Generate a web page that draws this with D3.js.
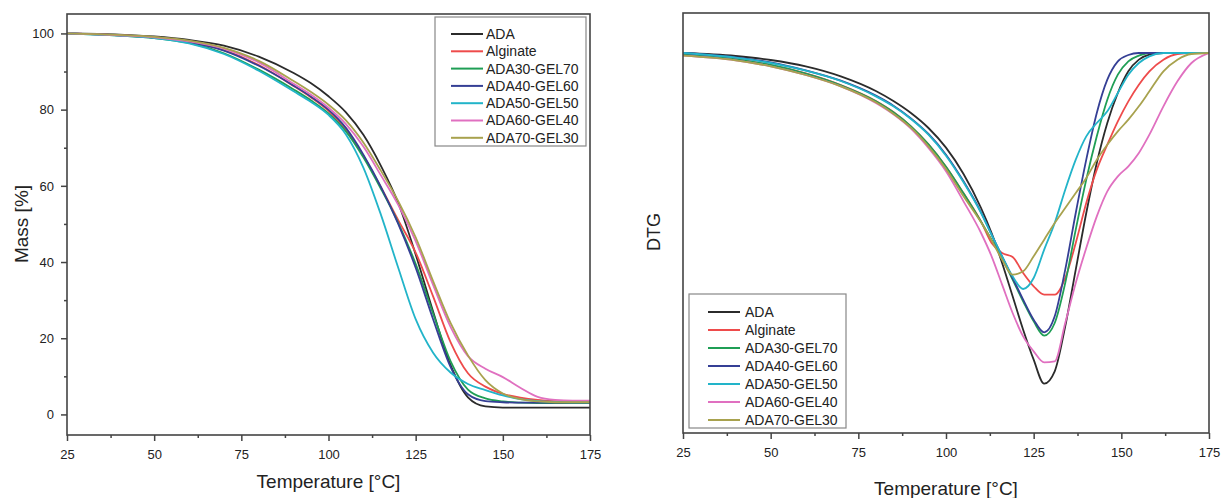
<!DOCTYPE html>
<html>
<head>
<meta charset="utf-8">
<script src="https://cdn.jsdelivr.net/npm/d3@7"></script>
<style>
  body { margin: 0; background: #fff; }
  svg { display: block; font-family: "Liberation Sans", Arial, sans-serif; }
  .tick text { font-size: 13px; fill: #222; }
  .tick line { stroke: #444; stroke-width: 1.5; }
  .axis-label { font-size: 19px; fill: #222; }
  .legend text { font-size: 14px; fill: #222; }
</style>
</head>
<body>
<svg id="chart" width="1223" height="498"></svg>
<script>
const seriesNames = ["ADA", "Alginate", "ADA30-GEL70", "ADA40-GEL60", "ADA50-GEL50", "ADA60-GEL40", "ADA70-GEL30"];
const seriesColors = ["#2b2b2b", "#ee4b4b", "#1f9e55", "#353f95", "#22b4c9", "#e070c0", "#a8a24e"];

const tempTicks = [25, 50, 75, 100, 125, 150, 175];
const tempMinorTicks = [37.5, 62.5, 87.5, 112.5, 137.5, 162.5];
const massTicks = [0, 20, 40, 60, 80, 100];
const massMinorTicks = [10, 30, 50, 70, 90];

// TGA mass loss (%)
const tgaTemp = [25, 40, 50, 60, 70, 80, 90, 95, 100, 105, 110, 115, 120, 125, 130, 135, 140, 145, 150, 155, 160, 165, 170, 175];
const tgaADA      = [100, 99.7, 99.2, 98.3, 96.8, 93.9, 89.6, 86.9, 83.5, 79.3, 73.4, 65.3, 55.5, 42.0, 27.0, 13.0, 4.5, 2.1, 1.8, 1.8, 1.8, 1.8, 1.8, 1.8];
const tgaAlginate = [100, 99.5, 98.9, 97.8, 95.6, 91.7, 86.2, 83.2, 79.7, 74.8, 67.9, 59.7, 51.0, 42.5, 31.0, 19.0, 10.8, 7.3, 5.4, 4.4, 3.8, 3.5, 3.4, 3.4];
const tgaADA30    = [100, 99.4, 98.8, 97.5, 94.8, 90.5, 85.3, 82.4, 79.0, 74.3, 67.5, 59.3, 50.3, 39.5, 26.5, 14.0, 6.5, 4.2, 3.4, 3.1, 3.0, 3.0, 3.0, 3.0];
const tgaADA40    = [100, 99.5, 98.9, 97.7, 95.5, 91.5, 86.3, 83.4, 80.0, 75.2, 68.2, 59.8, 50.0, 38.5, 25.0, 12.5, 5.3, 3.5, 3.2, 3.1, 3.1, 3.1, 3.1, 3.1];
const tgaADA50    = [100, 99.4, 98.8, 97.4, 94.6, 90.2, 84.8, 82.0, 78.6, 73.5, 64.8, 52.5, 38.5, 25.0, 16.2, 11.0, 8.0, 6.4, 5.0, 4.0, 3.5, 3.3, 3.2, 3.2];
const tgaADA60    = [100, 99.5, 99.0, 97.9, 96.0, 92.4, 86.8, 83.9, 80.5, 76.2, 70.3, 62.8, 55.0, 45.5, 34.0, 23.0, 15.3, 12.0, 9.8, 7.0, 4.6, 3.8, 3.6, 3.6];
const tgaADA70    = [100, 99.6, 99.1, 98.1, 96.2, 92.8, 87.5, 84.6, 81.3, 77.2, 71.4, 64.0, 56.0, 46.5, 35.0, 24.0, 15.5, 9.0, 5.5, 4.0, 3.4, 3.2, 3.2, 3.2];

// DTG (arbitrary units)
const dtgTemp = [25, 40, 50, 60, 70, 80, 85, 90, 95, 100, 105, 110, 113, 116, 119, 122, 125, 128, 131, 134, 137, 140, 143, 146, 149, 152, 155, 158, 162, 166, 170, 175];
const dtgADA      = [0, -0.09, -0.21, -0.4, -0.7, -1.14, -1.44, -1.8, -2.25, -2.84, -3.63, -4.65, -5.4, -6.3, -7.3, -8.3, -9.2, -9.92, -9.55, -8.2, -6.5, -4.8, -3.3, -2.1, -1.2, -0.55, -0.2, -0.05, 0, 0, 0, 0];
const dtgAlginate = [-0.05, -0.185, -0.355, -0.61, -0.96, -1.44, -1.77, -2.2, -2.74, -3.41, -4.21, -5.06, -5.7, -6.0, -6.12, -6.6, -7.0, -7.25, -7.25, -6.75, -5.7, -4.5, -3.5, -2.75, -2.05, -1.45, -0.95, -0.55, -0.2, -0.03, 0, 0];
const dtgADA30    = [-0.05, -0.19, -0.36, -0.62, -0.97, -1.45, -1.78, -2.2, -2.74, -3.41, -4.21, -5.06, -5.6, -6.15, -6.8, -7.45, -8.05, -8.48, -8.1, -6.9, -5.3, -3.8, -2.5, -1.4, -0.65, -0.25, -0.08, 0, 0, 0, 0, 0];
const dtgADA40    = [0, -0.13, -0.28, -0.52, -0.83, -1.28, -1.58, -1.96, -2.43, -3.05, -3.85, -4.78, -5.45, -6.1, -6.75, -7.4, -8.0, -8.38, -7.9, -6.5, -4.8, -3.2, -1.8, -0.8, -0.25, -0.06, 0, 0, 0, 0, 0, 0];
const dtgADA50    = [0, -0.14, -0.3, -0.53, -0.84, -1.3, -1.6, -1.98, -2.45, -3.08, -3.88, -4.8, -5.45, -6.1, -6.7, -7.08, -6.75, -5.9, -5.1, -4.1, -3.2, -2.5, -2.1, -1.75, -1.2, -0.65, -0.3, -0.1, 0, 0, 0, 0];
const dtgADA60    = [-0.08, -0.22, -0.4, -0.66, -1.0, -1.5, -1.84, -2.27, -2.85, -3.55, -4.45, -5.4, -6.1, -6.95, -7.8, -8.5, -8.95, -9.28, -9.25, -8.1, -6.9, -5.85, -4.9, -4.15, -3.7, -3.4, -3.0, -2.45, -1.6, -0.85, -0.3, 0];
const dtgADA70    = [-0.08, -0.22, -0.4, -0.66, -1.0, -1.48, -1.82, -2.24, -2.8, -3.48, -4.3, -5.08, -5.62, -6.2, -6.65, -6.55, -6.1, -5.6, -5.1, -4.65, -4.2, -3.75, -3.2, -2.75, -2.35, -2.0, -1.6, -1.15, -0.55, -0.2, -0.03, 0];

const tgaSeries = [tgaADA, tgaAlginate, tgaADA30, tgaADA40, tgaADA50, tgaADA60, tgaADA70];
const dtgSeries = [dtgADA, dtgAlginate, dtgADA30, dtgADA40, dtgADA50, dtgADA60, dtgADA70];

const svg = d3.select("#chart");

function drawPanel(opts) {
  const { left, top, right, bottom } = opts.box;
  const width = right - left;
  const height = bottom - top;

  const x = d3.scaleLinear().domain([25, 175]).range([0, width]);
  const y = d3.scaleLinear().domain(opts.yDomain).range([height, 0]);

  const g = svg.append("g").attr("transform", `translate(${left},${top})`);

  const clipId = "clip-" + opts.id;
  g.append("clipPath").attr("id", clipId)
    .append("rect").attr("width", width).attr("height", height);

  const line = d3.line()
    .x((d, i) => x(opts.temps[i]))
    .y(d => y(d))
    .curve(d3.curveMonotoneX);

  g.append("g").attr("clip-path", `url(#${clipId})`)
    .selectAll("path")
    .data(opts.series)
    .enter()
    .append("path")
    .attr("d", d => line(d))
    .attr("fill", "none")
    .attr("stroke", (d, i) => seriesColors[i])
    .attr("stroke-width", 1.8);

  // x axis, major and minor ticks
  const xAxis = g.append("g")
    .attr("transform", `translate(0,${height})`)
    .call(d3.axisBottom(x).tickValues(tempTicks).tickSize(6).tickSizeOuter(0).tickPadding(9).tickFormat(d3.format("d")));
  xAxis.select(".domain").remove();
  const xMinor = g.append("g")
    .attr("transform", `translate(0,${height})`)
    .call(d3.axisBottom(x).tickValues(tempMinorTicks).tickSize(3).tickSizeOuter(0).tickFormat(""));
  xMinor.select(".domain").remove();

  if (opts.yTicks) {
    const yAxis = g.append("g")
      .call(d3.axisLeft(y).tickValues(opts.yTicks).tickSize(6).tickSizeOuter(0).tickPadding(7));
    yAxis.select(".domain").remove();
    const yMinor = g.append("g")
      .call(d3.axisLeft(y).tickValues(opts.yMinorTicks).tickSize(3).tickSizeOuter(0).tickFormat(""));
    yMinor.select(".domain").remove();
  }

  // frame
  g.append("rect")
    .attr("width", width)
    .attr("height", height)
    .attr("fill", "none")
    .attr("stroke", "#444")
    .attr("stroke-width", 1.6);

  // axis labels
  svg.append("text")
    .attr("class", "axis-label")
    .attr("x", left + width / 2)
    .attr("y", opts.xLabelY)
    .attr("text-anchor", "middle")
    .text("Temperature [°C]");

  svg.append("text")
    .attr("class", "axis-label")
    .attr("transform", `translate(${opts.yLabelX},${opts.yLabelY}) rotate(-90)`)
    .attr("text-anchor", "middle")
    .style("font-size", opts.yLabelSize)
    .text(opts.yLabel);

  // legend
  const lg = svg.append("g").attr("class", "legend");
  const L = opts.legend;
  lg.append("rect")
    .attr("x", L.x).attr("y", L.y)
    .attr("width", L.w).attr("height", L.h)
    .attr("fill", "#fff")
    .attr("stroke", "#888")
    .attr("stroke-width", 1.2);
  const items = lg.selectAll("g.item")
    .data(seriesNames)
    .enter()
    .append("g")
    .attr("class", "item")
    .attr("transform", (d, i) => `translate(0,${L.firstY + i * L.step})`);
  items.append("line")
    .attr("x1", L.lineX1).attr("x2", L.lineX2)
    .attr("stroke", (d, i) => seriesColors[i])
    .attr("stroke-width", 2);
  items.append("text")
    .attr("x", L.textX)
    .attr("dy", "0.35em")
    .text(d => d);
}

drawPanel({
  id: "tga",
  box: { left: 67, top: 14, right: 590, bottom: 435 },
  yDomain: [-5.4, 105.1],
  temps: tgaTemp,
  series: tgaSeries,
  yTicks: massTicks,
  yMinorTicks: massMinorTicks,
  xLabelY: 488,
  yLabel: "Mass [%]",
  yLabelX: 28,
  yLabelY: 224,
  yLabelSize: "19px",
  legend: { x: 435, y: 17, w: 151, h: 129, firstY: 34, step: 17.3, lineX1: 451, lineX2: 483, textX: 486 }
});

drawPanel({
  id: "dtg",
  box: { left: 683, top: 13, right: 1209, bottom: 433 },
  yDomain: [-11.4, 1.2],
  temps: dtgTemp,
  series: dtgSeries,
  yTicks: null,
  xLabelY: 495,
  yLabel: "DTG",
  yLabelX: 660,
  yLabelY: 232,
  yLabelSize: "18px",
  legend: { x: 689, y: 294, w: 157, h: 134, firstY: 312, step: 18, lineX1: 708, lineX2: 740, textX: 745 }
});
</script>
</body>
</html>
